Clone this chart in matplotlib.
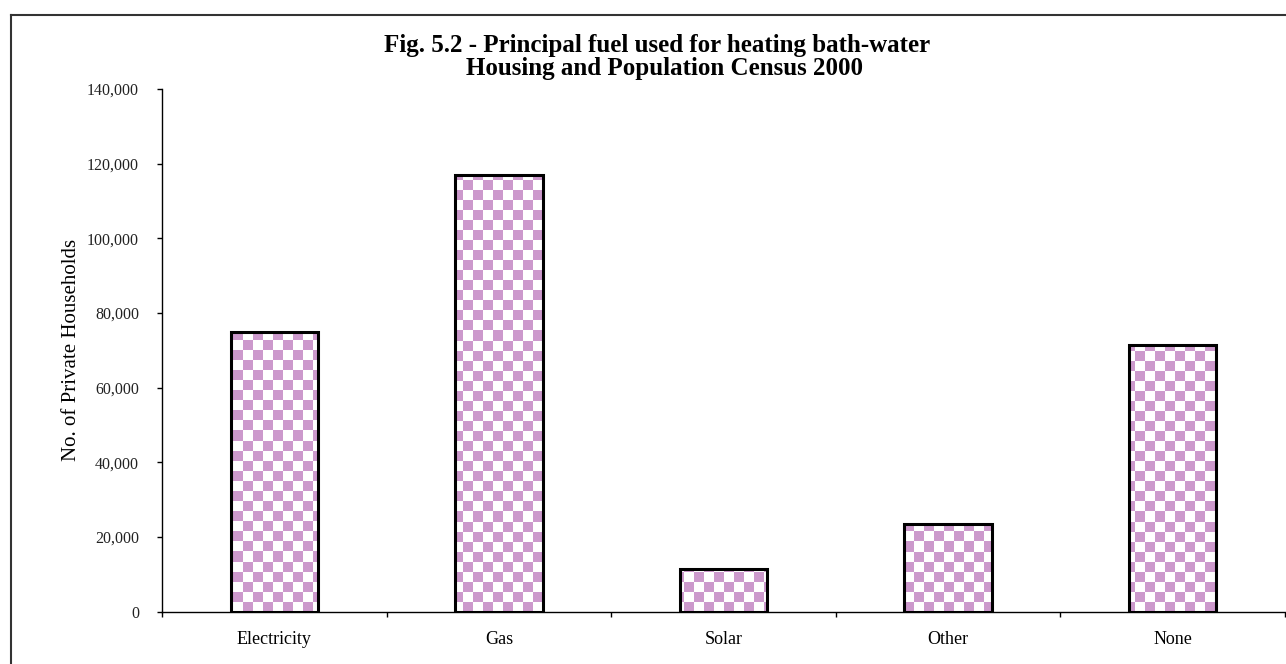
import numpy as np
import matplotlib.pyplot as plt
from matplotlib.lines import Line2D

plt.rcParams['font.family'] = ['Liberation Serif', 'DejaVu Serif']

categories = ['Electricity', 'Gas', 'Solar', 'Other', 'None']
households = [75000, 117000, 11500, 23500, 71500]
yticks = [0, 20000, 40000, 60000, 80000, 100000, 120000, 140000]

W, H = 1286, 664
fig = plt.figure(figsize=(W / 100, H / 100), dpi=100)
ax = fig.add_axes([162 / W, 52.3 / H, 1123 / W, 522.7 / H])

x = np.arange(len(categories))
bars = ax.bar(x, households, width=0.39, facecolor='none', edgecolor='black',
              linewidth=2.2, zorder=3)

# checker fill, ~10px cells, clipped to each bar
ncols, nrows = int(1123 / 10), int(522.7 / 10)
checker = (np.add.outer(np.arange(nrows), np.arange(ncols)) % 2).astype(float)
cmap = plt.matplotlib.colors.ListedColormap(['#cc99cc', 'white'])
for b in bars:
    im = ax.imshow(checker, cmap=cmap, extent=(-0.5, len(categories) - 0.5, 0, 140000),
                   aspect='auto', interpolation='nearest', zorder=2, origin='lower')
    im.set_clip_path(b)

ax.set_xlim(-0.5, len(categories) - 0.5)
ax.set_ylim(0, 140000)

ax.set_yticks(yticks)
ax.set_yticklabels([f'{v:,}' for v in yticks], fontsize=11.5, color='#222222')
ax.tick_params(axis='y', direction='out', length=3.6, width=1, pad=13)

ax.set_xticks(np.arange(-0.5, len(categories), 1.0))
ax.set_xticklabels([])
ax.tick_params(axis='x', which='major', direction='out', length=3.6, width=1)
ax.set_xticks(x, minor=True)
ax.set_xticklabels(categories, minor=True, fontsize=13)
ax.tick_params(axis='x', which='minor', length=0, pad=14)

for s in ['top', 'right']:
    ax.spines[s].set_visible(False)
ax.spines['left'].set_linewidth(1)
ax.spines['bottom'].set_linewidth(1)

ax.set_ylabel('No. of Private Households', fontsize=15, labelpad=4.5)

fig.text(657 / W, 1 - 52 / H, 'Fig. 5.2 - Principal fuel used for heating bath-water',
         ha='center', va='baseline', fontsize=18, fontweight='bold')
fig.text(665 / W, 1 - 75 / H, 'Housing and Population Census 2000',
         ha='center', va='baseline', fontsize=18, fontweight='bold')

# outer chart frame (left and top edges visible)
fig.add_artist(Line2D([11 / W, 11 / W], [0, 1 - 15 / H], transform=fig.transFigure,
                      color='#333333', linewidth=1.5))
fig.add_artist(Line2D([11 / W, 1], [1 - 15 / H, 1 - 15 / H], transform=fig.transFigure,
                      color='#333333', linewidth=1.5))

fig.savefig('out.png', dpi=100)
